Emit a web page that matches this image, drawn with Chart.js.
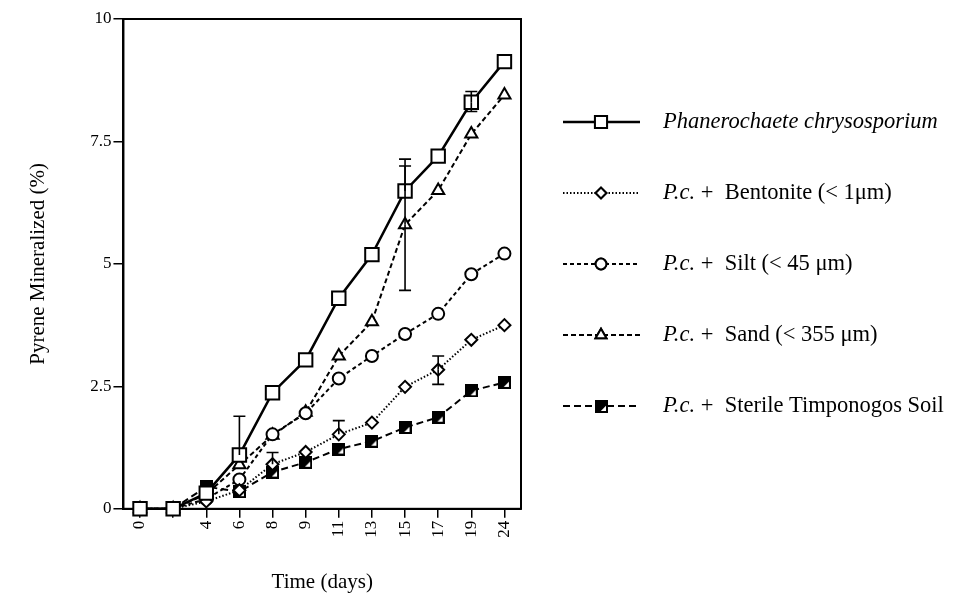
<!DOCTYPE html>
<html>
<head>
<meta charset="utf-8">
<script src="https://cdn.jsdelivr.net/npm/chart.js@4/dist/chart.umd.min.js"></script>
<style>
  html, body { margin: 0; padding: 0; background: #fff; }
  #wrap { width: 962px; height: 599px; position: relative; }
</style>
</head>
<body>
<div id="wrap"><canvas id="chart"></canvas></div>
<script>
// Time (days) - second point has no label in the original figure
const days = ['0', '', '4', '6', '8', '9', '11', '13', '15', '17', '19', '24'];

const phanerochaete = [0, 0, 0.32, 1.1, 2.37, 3.04, 4.3, 5.19, 6.49, 7.2, 8.3, 9.13];
const bentonite = [0, 0, 0.15, 0.38, 0.91, 1.16, 1.52, 1.76, 2.49, 2.84, 3.45, 3.75];
const silt = [0, 0, 0.2, 0.6, 1.52, 1.95, 2.66, 3.12, 3.57, 3.98, 4.79, 5.21];
const sand = [0, 0, 0.3, 0.9, 1.5, 1.97, 3.12, 3.82, 5.8, 6.5, 7.65, 8.45];
const sterile = [0, 0, 0.45, 0.35, 0.75, 0.95, 1.22, 1.38, 1.66, 1.87, 2.41, 2.58];

// error bar ends (absolute values), null = no bar end drawn
const phanHi = [null, null, null, 1.89, null, null, null, null, 7.14, null, 8.52, null];
const phanLo = [null, null, null, null, null, null, null, null, null, null, 8.11, null];
const bentHi = [null, null, null, null, 1.15, null, 1.8, null, null, 3.12, null, null];
const bentLo = [null, null, null, null, null, null, null, null, null, 2.54, null, null];
const sandHi = [null, null, null, null, null, null, null, null, 7.0, null, null, null];
const sandLo = [null, null, null, null, null, null, null, null, 4.46, null, null, null];

const yTicks = [0, 2.5, 5, 7.5, 10];

const legendItems = [
  { it: 'Phanerochaete chrysosporium', rest: '' },
  { it: 'P.c.', rest: ' +  Bentonite (< 1\u03bcm)' },
  { it: 'P.c.', rest: ' +  Silt (< 45 \u03bcm)' },
  { it: 'P.c.', rest: ' +  Sand (< 355 \u03bcm)' },
  { it: 'P.c.', rest: ' +  Sterile Timponogos Soil' }
];

const serif = "'Liberation Serif', 'DejaVu Serif', serif";

// half-filled square marker for the sterile soil series
function sterileMarker(size) {
  const c = document.createElement('canvas');
  c.width = size; c.height = size;
  const g = c.getContext('2d');
  g.fillStyle = '#000';
  g.fillRect(0, 0, size, size);
  g.fillStyle = '#fff';
  g.beginPath();
  g.moveTo(size - 2, size * 0.45);
  g.lineTo(size - 2, size - 2);
  g.lineTo(size * 0.45, size - 2);
  g.closePath();
  g.fill();
  return c;
}
const sterileImg = sterileMarker(13);

const errorBars = {
  id: 'errorBars',
  afterDatasetsDraw(chart) {
    const ctx = chart.ctx;
    const x = chart.scales.x, y = chart.scales.y;
    const sets = [[0, phanHi, phanLo], [1, bentHi, bentLo], [3, sandHi, sandLo]];
    ctx.save();
    ctx.strokeStyle = '#000';
    ctx.lineWidth = 1.6;
    sets.forEach(function (s) {
      const vals = chart.data.datasets[s[0]].data;
      for (let i = 0; i < vals.length; i++) {
        const px = x.getPixelForValue(i);
        const p0 = y.getPixelForValue(vals[i]);
        [s[1][i], s[2][i]].forEach(function (v) {
          if (v === null) return;
          const p = y.getPixelForValue(v);
          ctx.beginPath();
          ctx.moveTo(px, p0);
          ctx.lineTo(px, p);
          ctx.moveTo(px - 6, p);
          ctx.lineTo(px + 6, p);
          ctx.stroke();
        });
      }
    });
    ctx.restore();
  }
};

const frame = {
  id: 'frame',
  beforeDatasetsDraw(chart) {
    const a = chart.chartArea, ctx = chart.ctx;
    ctx.save();
    ctx.strokeStyle = '#000';
    ctx.lineWidth = 2;
    ctx.strokeRect(a.left, a.top, a.right - a.left, a.bottom - a.top);
    ctx.restore();
  }
};

const sideLegend = {
  id: 'sideLegend',
  afterDraw(chart) {
    const ctx = chart.ctx;
    ctx.save();
    chart.data.datasets.forEach(function (ds, i) {
      const yy = 122 + i * 71;
      ctx.strokeStyle = '#000';
      ctx.lineWidth = ds.borderWidth;
      ctx.setLineDash(ds.borderDash || []);
      ctx.beginPath();
      ctx.moveTo(563, yy);
      ctx.lineTo(640, yy);
      ctx.stroke();
      ctx.setLineDash([]);
      ctx.lineWidth = 2;
      if (ds.pointStyle instanceof HTMLCanvasElement) {
        ctx.drawImage(ds.pointStyle, 601 - 6, yy - 6);
      } else {
        Chart.helpers.drawPoint(ctx, {
          pointStyle: ds.pointStyle,
          radius: ds.pointRadius * 0.9,
          borderWidth: 2
        }, 601, yy);
        ctx.fillStyle = '#fff';
        ctx.fill();
        ctx.stroke();
      }
      const item = legendItems[i];
      ctx.fillStyle = '#000';
      ctx.textBaseline = 'middle';
      ctx.font = 'italic 22.5px ' + serif;
      ctx.fillText(item.it, 663, yy);
      const w = ctx.measureText(item.it).width;
      ctx.font = '22.5px ' + serif;
      ctx.fillText(item.rest, 663 + w, yy);
    });
    ctx.restore();
  }
};

function series(label, data, dash, style, radius, width) {
  return {
    label: label,
    data: data,
    borderColor: '#000',
    borderWidth: width,
    borderDash: dash,
    pointStyle: style,
    pointRadius: radius,
    pointBorderWidth: 2,
    pointBorderColor: '#000',
    pointBackgroundColor: '#fff',
    fill: false,
    clip: false,
    tension: 0
  };
}

new Chart(document.getElementById('chart'), {
  type: 'line',
  data: {
    labels: days,
    datasets: [
      series('Phanerochaete chrysosporium', phanerochaete, [], 'rect', 9.5, 2.5),
      series('P.c. + Bentonite (< 1\u03bcm)', bentonite, [1.5, 2], 'rectRot', 6, 2),
      series('P.c. + Silt (< 45 \u03bcm)', silt, [4, 3], 'circle', 6, 2),
      series('P.c. + Sand (< 355 \u03bcm)', sand, [5, 3], 'triangle', 7, 2),
      series('P.c. + Sterile Timponogos Soil', sterile, [7, 4], sterileImg, 6, 2)
    ]
  },
  options: {
    responsive: true,
    maintainAspectRatio: false,
    animation: false,
    layout: { padding: { left: 22, right: 441, top: 19, bottom: 0 } },
    plugins: {
      legend: { display: false },
      tooltip: { enabled: false }
    },
    scales: {
      x: {
        type: 'category',
        offset: true,
        grid: { display: true, drawOnChartArea: false, drawTicks: true, tickLength: 9, color: '#000', lineWidth: 1.5 },
        border: { display: true, color: '#000', width: 2 },
        ticks: { color: '#000', font: { family: serif, size: 17 }, minRotation: 90, maxRotation: 90, padding: 3, autoSkip: false },
        title: { display: true, text: 'Time (days)', color: '#000', font: { family: serif, size: 21 }, padding: { top: 29 } }
      },
      y: {
        min: 0,
        max: 10,
        afterBuildTicks(axis) {
          axis.ticks = yTicks.map(function (v) { return { value: v }; });
        },
        grid: { display: true, drawOnChartArea: false, drawTicks: true, tickLength: 10, color: '#000', lineWidth: 1.5 },
        border: { display: true, color: '#000', width: 2 },
        ticks: { color: '#000', font: { family: serif, size: 17 }, padding: 2 },
        title: { display: true, text: 'Pyrene Mineralized (%)', color: '#000', font: { family: serif, size: 21 }, padding: { bottom: 37 } }
      }
    }
  },
  plugins: [errorBars, frame, sideLegend]
});
</script>
</body>
</html>
